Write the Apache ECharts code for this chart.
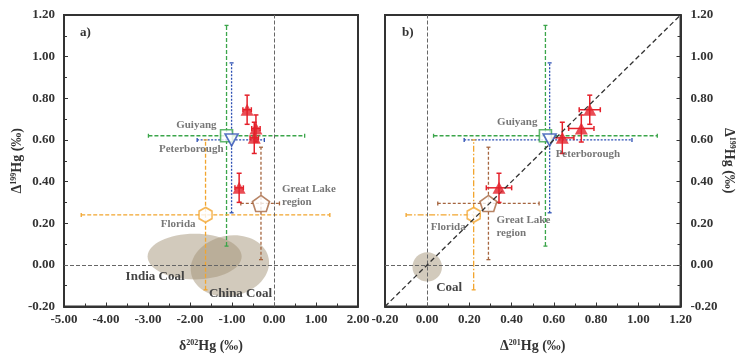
<!DOCTYPE html>
<html>
<head>
<meta charset="utf-8">
<script src="https://cdn.jsdelivr.net/npm/echarts@6/dist/echarts.min.js"></script>
<style>
  html, body { margin: 0; padding: 0; background: #fff; }
  #chart { width: 737px; height: 358px; }
</style>
</head>
<body>
<div id="chart"></div>
<script>
  // source sites (open symbols): Guiyang, Peterborough, Florida, Great Lake region
  const siteNames = ['Guiyang', 'Peterborough', 'Florida', 'Great Lake\nregion'];
  const siteD202 = [-1.13, -1.01, -1.63, -0.31];
  const siteD202Lo = [-2.99, -1.83, -4.59, -0.79];
  const siteD202Hi = [0.73, -0.23, 1.33, 0.13];
  const siteD199 = [0.62, 0.60, 0.24, 0.295];
  const siteD199Lo = [0.09, 0.25, -0.12, 0.025];
  const siteD199Hi = [1.15, 0.97, 0.60, 0.565];
  const siteD201 = [0.56, 0.58, 0.22, 0.29];
  const siteD201Lo = [0.03, 0.175, -0.10, 0.05];
  const siteD201Hi = [1.09, 0.97, 0.25, 0.53];

  // samples (red triangles)
  const sampleD202 = [-0.64, -0.43, -0.47, -0.83];
  const sampleD202Err = [0.10, 0.10, 0.10, 0.10];
  const sampleD199 = [0.745, 0.655, 0.61, 0.37];
  const sampleD199Err = [0.07, 0.065, 0.075, 0.07];
  const sampleD201 = [0.77, 0.73, 0.64, 0.34];
  const sampleD201Err = [0.05, 0.06, 0.055, 0.06];

  // coal fields (centre, half width, half height)
  const coalNames = ['India Coal', 'China Coal'];
  const coalD202 = [-1.89, -1.05];
  const coalD202Half = [1.12, 0.94];
  const coalD199 = [0.04, -0.005];
  const coalD199Half = [0.11, 0.145];
  const coalBName = ['Coal'];
  const coalD201 = [0.0];
  const coalD201Half = [0.07];
  const coalBD199 = [-0.01];
  const coalBD199Half = [0.07];

  // axis ranges
  const d202Range = [-5, 2, 1];
  const capRange = [-0.2, 1.2, 0.2];
  const zeroLine = 0;

  // styles
  const siteColors = ['#3ba54a', '#2c4fb3', '#f2a52e', '#a5653f'];
  const siteSymbols = [
    'rect',
    'triangle',
    'path://M0,-10L8.66,-5L8.66,5L0,10L-8.66,5L-8.66,-5Z',
    'path://M0,-10L9.51,-3.09L5.88,8.09L-5.88,8.09L-9.51,-3.09Z'
  ];
  const siteSizes = [[12, 12], [13, 12], [13, 15], [17, 16]];
  const siteRotate = [0, 180, 0, 0];
  const dashA = [[4, 2], [2, 1.5], [4, 2], [3, 2]];
  const dashB = [[4, 2], [2, 1.5], [6, 2, 1.5, 2], [3, 2]];
  const labelA = [
    { align: 'right', offset: [-10, -11] },
    { align: 'right', offset: [-8, 9] },
    { align: 'right', offset: [-10, 9] },
    { align: 'left', offset: [21, -8] }
  ];
  const labelB = [
    { align: 'right', offset: [-8, -14] },
    { align: 'left', offset: [6, 14] },
    { align: 'right', offset: [-8, 12] },
    { align: 'left', offset: [8, 23] }
  ];
  const red = '#e4202a';
  const coalFill = 'rgba(160,145,115,0.48)';
  const serif = '"Liberation Serif", "DejaVu Serif", serif';

  function barsItem(colors, dashes, width, cap) {
    return function (params, api) {
      const i = params.dataIndex;
      const x = api.value(0), y = api.value(1);
      const l = api.coord([api.value(2), y]);
      const r = api.coord([api.value(3), y]);
      const b = api.coord([x, api.value(4)]);
      const t = api.coord([x, api.value(5)]);
      const c = typeof colors === 'string' ? colors : colors[i];
      const d = dashes ? dashes[i] : null;
      const s = { stroke: c, lineWidth: width, lineDash: d, fill: null };
      const cs = { stroke: c, lineWidth: width, fill: null };
      const seg = (x1, y1, x2, y2, st) => ({ type: 'line', shape: { x1: x1, y1: y1, x2: x2, y2: y2 }, style: st });
      return {
        type: 'group',
        children: [
          seg(l[0], l[1], r[0], r[1], s),
          seg(b[0], b[1], t[0], t[1], s),
          seg(l[0], l[1] - cap, l[0], l[1] + cap, cs),
          seg(r[0], r[1] - cap, r[0], r[1] + cap, cs),
          seg(b[0] - cap, b[1], b[0] + cap, b[1], cs),
          seg(t[0] - cap, t[1], t[0] + cap, t[1], cs)
        ]
      };
    };
  }

  function ellipseItem(labels, labelStyle) {
    return function (params, api) {
      const i = params.dataIndex;
      const c = api.coord([api.value(0), api.value(1)]);
      const s = api.size([api.value(2), api.value(3)]);
      const ls = labelStyle[i];
      return {
        type: 'group',
        children: [
          {
            type: 'ellipse',
            shape: { cx: c[0], cy: c[1], rx: s[0], ry: s[1] },
            rotation: ls.rot, originX: c[0], originY: c[1],
            style: { fill: coalFill }
          },
          {
            type: 'text',
            x: c[0] + ls.dx, y: c[1] + ls.dy,
            style: {
              text: labels[i], fill: '#444', font: 'bold 13px ' + serif,
              align: ls.align, verticalAlign: 'middle'
            }
          }
        ]
      };
    };
  }

  function zip(...cols) {
    return cols[0].map((_, i) => cols.map(c => c[i]));
  }

  function siteData(xs, ys, labels) {
    return xs.map((x, i) => ({
      value: [x, ys[i]],
      name: siteNames[i],
      symbol: siteSymbols[i],
      symbolSize: siteSizes[i],
      symbolRotate: siteRotate[i],
      itemStyle: { color: '#fff', borderColor: siteColors[i], borderWidth: 1.6 },
      label: {
        show: true, position: 'inside', formatter: siteNames[i],
        align: labels[i].align, verticalAlign: 'middle', offset: labels[i].offset,
        color: '#555', fontFamily: serif, fontWeight: 'bold', fontSize: 11, lineHeight: 13
      }
    }));
  }

  const axisText = { color: '#333', fontFamily: serif, fontWeight: 'bold', fontSize: 13 };
  const nameRich = {
    a: { color: '#333', fontFamily: serif, fontWeight: 'bold', fontSize: 14 },
    s: { color: '#333', fontFamily: serif, fontWeight: 'bold', fontSize: 8, padding: [0, 0, 7, 0] }
  };
  const tick = { show: true, inside: true, length: 4, lineStyle: { color: '#333', width: 1 } };
  const minor = { show: true, splitNumber: 2, length: 3, lineStyle: { color: '#333', width: 1 } };
  const line = { show: true, onZero: false, lineStyle: { color: '#333', width: 2 } };
  const fmt = v => v.toFixed(2);

  const refLine = { type: 'dashed', color: '#666', width: 1 };

  const chart = echarts.init(document.getElementById('chart'));
  chart.setOption({
    animation: false,
    backgroundColor: '#fff',
    graphic: [
      { type: 'text', left: 80, top: 26, style: { text: 'a)', font: 'bold 13px ' + serif, fill: '#333' } },
      { type: 'text', left: 402, top: 26, style: { text: 'b)', font: 'bold 13px ' + serif, fill: '#333' } }
    ],
    grid: [
      { left: 64, top: 15, width: 294, height: 298, show: true, borderColor: '#333', borderWidth: 2 },
      { left: 385, top: 15, width: 298, height: 298, show: true, borderColor: '#333', borderWidth: 2 }
    ],
    xAxis: [
      {
        gridIndex: 0, type: 'value', min: d202Range[0], max: d202Range[1], interval: d202Range[2],
        axisLine: line, axisTick: tick, minorTick: minor, splitLine: { show: false },
        axisLabel: Object.assign({ margin: 7, formatter: fmt }, axisText),
        name: '{a|δ}{s|202}{a|Hg (‰)}', nameLocation: 'middle', nameGap: 32,
        nameTextStyle: { rich: nameRich }
      },
      {
        gridIndex: 1, type: 'value', min: capRange[0], max: capRange[1], interval: capRange[2],
        axisLine: line, axisTick: tick, minorTick: minor, splitLine: { show: false },
        axisLabel: Object.assign({ margin: 7, formatter: fmt }, axisText),
        name: '{a|Δ}{s|201}{a|Hg (‰)}', nameLocation: 'middle', nameGap: 32,
        nameTextStyle: { rich: nameRich }
      }
    ],
    yAxis: [
      {
        gridIndex: 0, type: 'value', min: capRange[0], max: capRange[1], interval: capRange[2],
        axisLine: line, axisTick: tick, minorTick: minor, splitLine: { show: false },
        axisLabel: Object.assign({ margin: 9, formatter: fmt }, axisText),
        name: '{a|Δ}{s|199}{a|Hg (‰)}', nameLocation: 'middle', nameGap: 37,
        nameTextStyle: { rich: nameRich }
      },
      {
        gridIndex: 1, type: 'value', position: 'right', min: capRange[0], max: capRange[1], interval: capRange[2],
        axisLine: line, axisTick: tick, minorTick: minor, splitLine: { show: false },
        axisLabel: Object.assign({ margin: 10, formatter: fmt }, axisText),
        name: '{a|Δ}{s|199}{a|Hg (‰)}', nameLocation: 'middle', nameGap: 38, nameRotate: -90,
        nameTextStyle: { rich: nameRich }
      }
    ],
    series: [
      // ---------- panel a ----------
      {
        type: 'custom', xAxisIndex: 0, yAxisIndex: 0, z: 1, silent: true,
        renderItem: ellipseItem(coalNames, [
          { rot: 0, dx: -69, dy: 20, align: 'left' },
          { rot: 0.2, dx: -21, dy: 28, align: 'left' }
        ]),
        encode: { x: 0, y: 1 },
        data: zip(coalD202, coalD199, coalD202Half, coalD199Half)
      },
      {
        type: 'line', xAxisIndex: 0, yAxisIndex: 0, z: 2, data: [], silent: true,
        markLine: {
          silent: true, symbol: ['none', 'none'], label: { show: false }, lineStyle: refLine,
          data: [{ xAxis: zeroLine }, { yAxis: zeroLine }]
        }
      },
      {
        type: 'custom', xAxisIndex: 0, yAxisIndex: 0, z: 3, silent: true,
        renderItem: barsItem(siteColors, dashA, 1.3, 2),
        encode: { x: 0, y: 1 },
        data: zip(siteD202, siteD199, siteD202Lo, siteD202Hi, siteD199Lo, siteD199Hi)
      },
      {
        type: 'custom', xAxisIndex: 0, yAxisIndex: 0, z: 3, silent: true,
        renderItem: barsItem(red, null, 1.5, 2.5),
        encode: { x: 0, y: 1 },
        data: sampleD202.map((x, i) => [x, sampleD199[i],
          x - sampleD202Err[i], x + sampleD202Err[i],
          sampleD199[i] - sampleD199Err[i], sampleD199[i] + sampleD199Err[i]])
      },
      {
        type: 'scatter', xAxisIndex: 0, yAxisIndex: 0, z: 4,
        data: siteData(siteD202, siteD199, labelA)
      },
      {
        type: 'scatter', xAxisIndex: 0, yAxisIndex: 0, z: 5,
        symbol: 'triangle', symbolSize: [13, 12],
        itemStyle: { color: red },
        data: zip(sampleD202, sampleD199)
      },
      // ---------- panel b ----------
      {
        type: 'custom', xAxisIndex: 1, yAxisIndex: 1, z: 1, silent: true,
        renderItem: ellipseItem(coalBName, [{ rot: 0, dx: 9, dy: 21, align: 'left' }]),
        encode: { x: 0, y: 1 },
        data: zip(coalD201, coalBD199, coalD201Half, coalBD199Half)
      },
      {
        type: 'line', xAxisIndex: 1, yAxisIndex: 1, z: 2, data: [], silent: true,
        markLine: {
          silent: true, symbol: ['none', 'none'], label: { show: false }, lineStyle: refLine,
          data: [
            { xAxis: zeroLine }, { yAxis: zeroLine },
            [
              { coord: [capRange[0], capRange[0]], lineStyle: { color: '#333', width: 1.3, type: [5, 3] } },
              { coord: [capRange[1], capRange[1]] }
            ]
          ]
        }
      },
      {
        type: 'custom', xAxisIndex: 1, yAxisIndex: 1, z: 3, silent: true,
        renderItem: barsItem(siteColors, dashB, 1.3, 2),
        encode: { x: 0, y: 1 },
        data: zip(siteD201, siteD199, siteD201Lo, siteD201Hi, siteD199Lo, siteD199Hi)
      },
      {
        type: 'custom', xAxisIndex: 1, yAxisIndex: 1, z: 3, silent: true,
        renderItem: barsItem(red, null, 1.5, 2.5),
        encode: { x: 0, y: 1 },
        data: sampleD201.map((x, i) => [x, sampleD199[i],
          x - sampleD201Err[i], x + sampleD201Err[i],
          sampleD199[i] - sampleD199Err[i], sampleD199[i] + sampleD199Err[i]])
      },
      {
        type: 'scatter', xAxisIndex: 1, yAxisIndex: 1, z: 4,
        data: siteData(siteD201, siteD199, labelB)
      },
      {
        type: 'scatter', xAxisIndex: 1, yAxisIndex: 1, z: 5,
        symbol: 'triangle', symbolSize: [13, 12],
        itemStyle: { color: red },
        data: zip(sampleD201, sampleD199)
      }
    ]
  });
</script>
</body>
</html>
